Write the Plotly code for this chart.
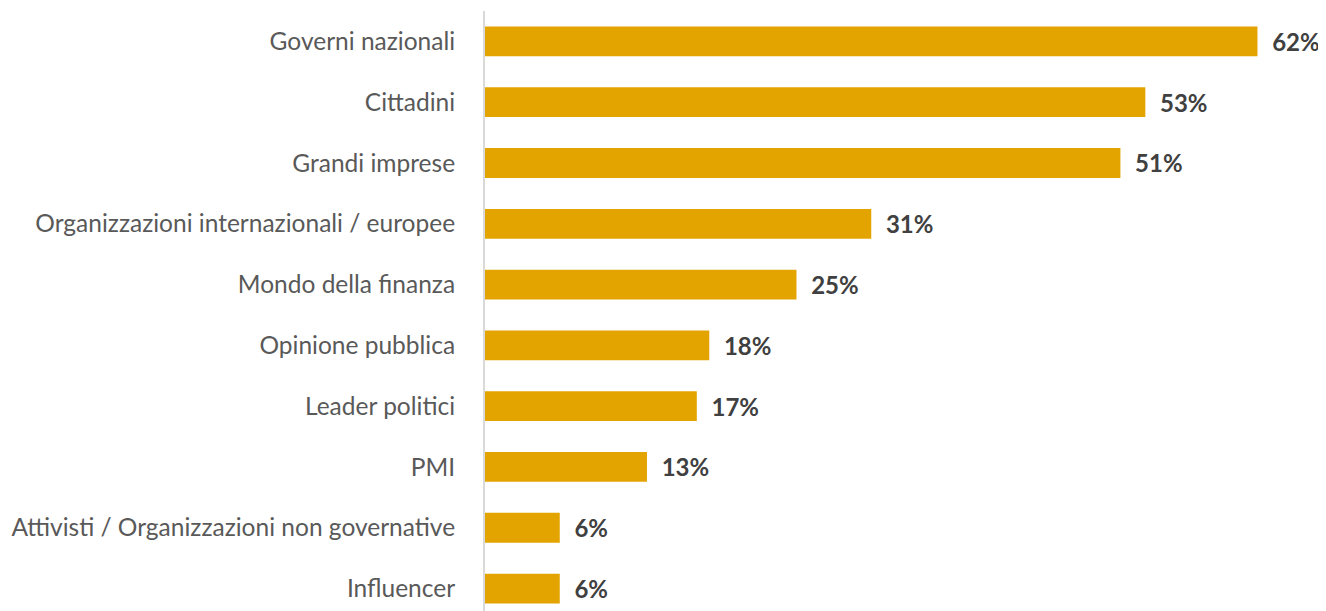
import plotly.graph_objects as go

categories = ["Governi nazionali", "Cittadini", "Grandi imprese",
              "Organizzazioni internazionali / europee", "Mondo della finanza",
              "Opinione pubblica", "Leader politici", "PMI",
              "Attivisti / Organizzazioni non governative", "Influencer"]
values = [62, 53, 51, 31, 25, 18, 17, 13, 6, 6]
labels = [f"  {v}%" for v in values]

fig = go.Figure(go.Bar(
    x=values, y=categories, orientation="h",
    marker=dict(color="#E3A400", line=dict(width=0)),
    text=labels, textposition="outside", cliponaxis=False,
    constraintext="none",
    textfont=dict(family="Lato", size=24, color="#404040", weight="bold"),
    width=0.49,
))
fig.update_layout(
    width=1318, height=603,
    margin=dict(l=477, r=0, t=3, b=0),
    plot_bgcolor="white", paper_bgcolor="white",
    showlegend=False,
    font=dict(family="Lato", size=24.5, color="#595959"),
)
fig.update_xaxes(range=[0, 67.5], visible=False)
fig.update_yaxes(
    categoryorder="array", categoryarray=categories,
    range=[9.369, -0.5],
    showline=True, linecolor="#D9D9D9", linewidth=2,
    ticks="", ticklabelstandoff=23,
    tickfont=dict(family="Lato", size=24.5, color="#595959"),
    showgrid=False, zeroline=False,
)
fig.write_html("out.html")
